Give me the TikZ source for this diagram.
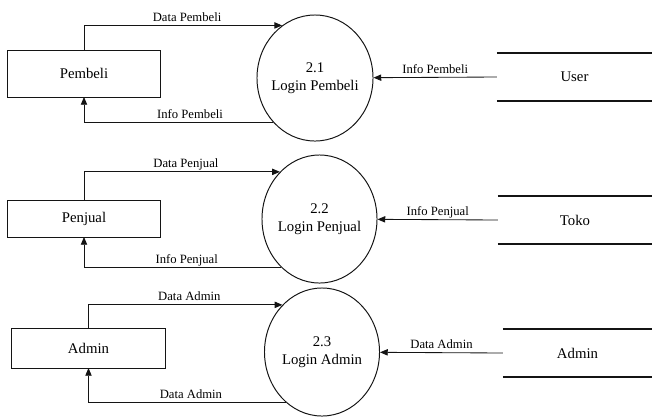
\documentclass[tikz,border=0pt]{standalone}
\usepackage{fontspec}
\setmainfont{Liberation Serif}
\usepackage{tikz}
\usetikzlibrary{positioning, shapes.geometric, arrows.meta}
\definecolor{dfdLine}{RGB}{20, 20, 20}
\tikzset{
    base/.style={
        font=\fontsize{10.5}{13}\selectfont,
        align=center
    },
    entity/.style={
        base,
        rectangle,
        draw=dfdLine,
        line width=0.7pt,
        minimum width=3.8cm,
        inner sep=0pt,
        outer sep=0pt
    },
    process/.style={
        base,
        ellipse,
        draw=dfdLine,
        line width=0.7pt,
        minimum width=2.875cm,
        minimum height=3.2cm,
        inner sep=0pt
    },
    store/.style={
        base,
        rectangle,
        minimum height=1.2cm,
        inner sep=0pt,
        outer sep=0pt
    },
    storeline/.style={
        line width=1pt,
        draw=dfdLine
    },
    flow/.style={
        -{Triangle[length=5.5pt, width=4.5pt]},
        line width=0.6pt,
        draw=dfdLine
    },
    flowlabel/.style={
        font=\fontsize{9}{11}\selectfont,
        inner sep=1pt,
        text depth=0pt
    }
}

\begin{document}
\begin{tikzpicture}[x=0.025cm, y=-0.025cm]
  \useasboundingbox (0,0) rectangle (652,417);

  % Login Pembeli
  \node[entity, minimum height=1.175cm] (pembeli) at (84,73.5) {Pembeli};
  \node[process, minimum width=2.9cm, minimum height=3.15cm,
        label={[base]center:{2.1\\Login Pembeli}}] (p21) at (315,78) {};
  \node[store, minimum width=3.875cm] (user) at (574.5,77) {User};
  \draw[storeline] (user.north west) -- (user.north east)
                   (user.south west) -- (user.south east);
  \draw[flow] (pembeli.north) |- (p21.122)
      node[flowlabel, above=1.5pt, pos=0.76] {Data Pembeli};
  \draw[flow] (p21.227) -| (pembeli.south)
      node[flowlabel, above=1.5pt, pos=0.22] {Info Pembeli};
  \draw[flow] (user.west) -- (p21)
      node[flowlabel, above=1.5pt, midway] {Info Pembeli};

  % Login Penjual
  \node[entity, minimum height=0.925cm] (penjual) at (84,218.5) {Penjual};
  \node[process, label={[base]center:{2.2\\Login Penjual}}] (p22) at (319.5,219) {};
  \node[store, minimum width=3.85cm] (toko) at (575,220) {Toko};
  \draw[storeline] (toko.north west) -- (toko.north east)
                   (toko.south west) -- (toko.south east);
  \draw[flow] (penjual.north) |- (p22.130)
      node[flowlabel, above=1.5pt, pos=0.76] {Data Penjual};
  \draw[flow] (p22.232) -| (penjual.south)
      node[flowlabel, above=1.5pt, pos=0.24] {Info Penjual};
  \draw[flow] (toko.west) -- (p22)
      node[flowlabel, above=1.5pt, midway] {Info Penjual};

  % Login Admin
  \node[entity, minimum width=3.825cm, minimum height=1cm] (admin) at (88.5,348) {Admin};
  \node[process, label={[base]center:{2.3\\Login Admin}}] (p23) at (322,352) {};
  \node[store, minimum width=3.725cm] (admindb) at (577.5,353) {Admin};
  \draw[storeline] (admindb.north west) -- (admindb.north east)
                   (admindb.south west) -- (admindb.south east);
  \draw[flow] (admin.north) |- (p23.130)
      node[flowlabel, above=1.5pt, pos=0.76] {Data Admin};
  \draw[flow] (p23.234) -| (admin.south)
      node[flowlabel, above=1.5pt, pos=0.24] {Data Admin};
  \draw[flow] (admindb.west) -- (p23)
      node[flowlabel, above=1.5pt, midway] {Data Admin};
\end{tikzpicture}
\end{document}
